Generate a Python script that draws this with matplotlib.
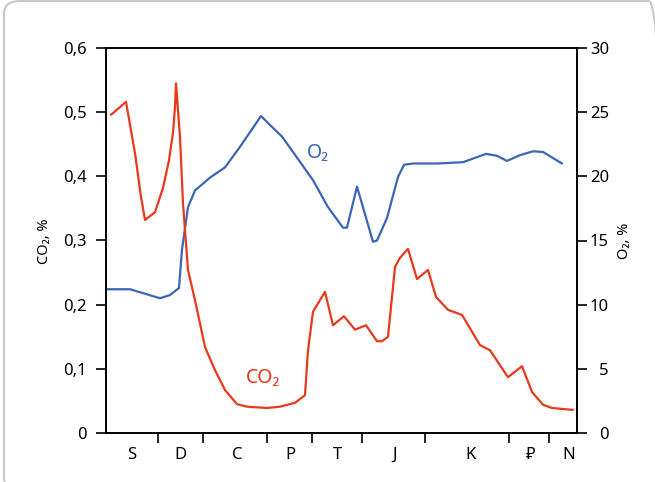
import matplotlib
matplotlib.use("Agg")
import matplotlib.pyplot as plt
from matplotlib.patches import FancyBboxPatch
from matplotlib.ticker import FixedLocator, FuncFormatter, NullFormatter

plt.rcParams['font.family'] = ['Noto Sans', 'DejaVu Sans']

# positions along the section (arbitrary units, 0..471)
co2_x = [5, 20, 29, 35, 39, 49, 57, 63, 67, 69, 70, 74, 77, 82, 89, 99, 109, 119,
         131, 141, 161, 174, 189, 199, 202, 207, 219, 227, 238, 249, 260, 271, 276,
         282, 286, 289, 294, 302, 311, 322, 330, 342, 356, 374, 384, 402, 416, 426,
         437, 446, 467]
co2 = [0.496, 0.516, 0.436, 0.368, 0.332, 0.344, 0.382, 0.425, 0.468, 0.508, 0.545,
       0.461, 0.358, 0.254, 0.207, 0.134, 0.098, 0.067, 0.045, 0.041, 0.039, 0.041,
       0.047, 0.059, 0.129, 0.189, 0.220, 0.168, 0.182, 0.161, 0.168, 0.143, 0.143,
       0.150, 0.212, 0.259, 0.273, 0.287, 0.240, 0.254, 0.212, 0.192, 0.184, 0.137,
       0.129, 0.087, 0.104, 0.064, 0.044, 0.039, 0.036]

o2_x = [1, 24, 37, 54, 64, 73, 76, 82, 89, 104, 119, 134, 155, 164, 176, 207, 222,
        237, 241, 251, 267, 271, 281, 292, 298, 307, 331, 357, 380, 391, 401, 414,
        427, 437, 456]
o2 = [11.2, 11.2, 10.9, 10.5, 10.75, 11.3, 14.3, 17.6, 18.9, 19.9, 20.7, 22.3, 24.7,
      24.0, 23.1, 19.7, 17.6, 16.0, 16.0, 19.2, 14.9, 15.0, 16.75, 19.95, 20.9, 21.0,
      21.0, 21.1, 21.75, 21.6, 21.2, 21.65, 21.95, 21.9, 21.0]

# section boundaries and stage names
bounds = [52, 97, 161, 206, 256, 319, 403, 443]
stage_pos = [26, 74, 131, 184, 231, 289, 365, 425, 463]
stages = ['S', 'D', 'C', 'P', 'T', 'J', 'K', '₽', 'N']

red = '#e8391d'
blue = '#3a66b3'

fig = plt.figure(figsize=(6.55, 4.82), dpi=100)

# rounded frame around the figure
frame = FancyBboxPatch((4 / 655, -8 / 482), 661 / 655, 489 / 482,
                       boxstyle='round,pad=0,rounding_size=0.025',
                       transform=fig.transFigure, fill=False,
                       edgecolor='#c8c8c8', linewidth=1.5, zorder=0)
fig.patches.append(frame)

ax = fig.add_axes([106 / 655, 49 / 482, 471 / 655, 385 / 482])
ax2 = ax.twinx()

ax.plot(co2_x, co2, color=red, lw=1.6, zorder=3,
        solid_joinstyle='round', solid_capstyle='round')
ax2.plot(o2_x, o2, color=blue, lw=1.6,
         solid_joinstyle='round', solid_capstyle='round')
ax.set_zorder(ax2.get_zorder() + 1)
ax.patch.set_visible(False)

ax.set_xlim(0, 471)
ax.set_ylim(0, 0.6)
ax2.set_ylim(0, 30)

ax.set_yticks([0, 0.1, 0.2, 0.3, 0.4, 0.5, 0.6])
ax.yaxis.set_major_formatter(FuncFormatter(
    lambda v, p: '0' if v == 0 else f'{v:.1f}'.replace('.', ',')))
ax2.set_yticks([0, 5, 10, 15, 20, 25, 30])

ax.xaxis.set_major_locator(FixedLocator(bounds))
ax.xaxis.set_major_formatter(NullFormatter())
ax.xaxis.set_minor_locator(FixedLocator(stage_pos))
ax.set_xticklabels(stages, minor=True)

for a in (ax, ax2):
    for s in a.spines.values():
        s.set_linewidth(1.2)
        s.set_color('black')

ax.tick_params(axis='y', direction='out', length=7.2, width=1.2, pad=6.5, labelsize=12)
ax.tick_params(axis='x', which='major', direction='out', length=7.2, width=1.2)
ax.tick_params(axis='x', which='minor', length=0, pad=10, labelsize=12)
ax2.tick_params(axis='y', direction='out', length=7.2, width=1.2, pad=15.8, labelsize=12)
for lbl in ax2.get_yticklabels():
    lbl.set_horizontalalignment('right')

fig.text(45 / 655, 1 - 241 / 482, 'CO₂, %', rotation=90, ha='center', va='center', fontsize=10.5)
fig.text(625 / 655, 1 - 241 / 482, 'O₂, %', rotation=90, ha='center', va='center', fontsize=10.5)

ax2.text(212, 21.8, 'O₂', color=blue, fontsize=14, ha='center', va='center')
ax.text(157, 0.0857, 'CO₂', color=red, fontsize=14, ha='center', va='center')

fig.savefig('out.png', dpi=100)
